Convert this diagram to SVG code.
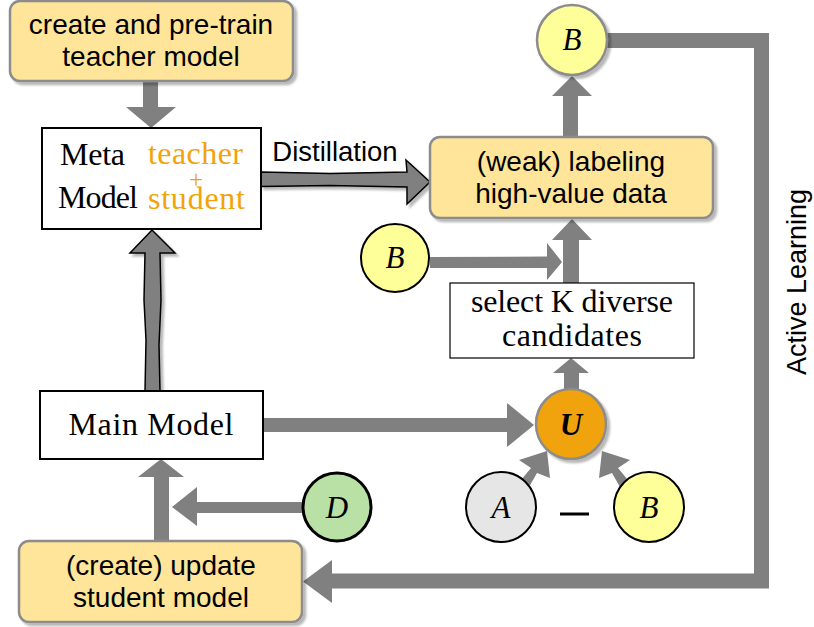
<svg xmlns="http://www.w3.org/2000/svg" width="814" height="627" viewBox="0 0 814 627">
<defs>
<filter id="sh" x="-20%" y="-20%" width="150%" height="150%">
<feDropShadow dx="3" dy="3" stdDeviation="1.2" flood-color="#000" flood-opacity="0.28"/>
</filter>
</defs>
<style>
.sans{font-family:"Liberation Sans",Arial,sans-serif;font-size:28px;fill:#000;text-anchor:middle}
.serif{font-family:"Liberation Serif","Times New Roman",serif;font-size:32px;fill:#000}
.or{fill:#F0A30A}
.let{font-family:"Liberation Serif","Times New Roman",serif;font-size:31px;font-style:italic;text-anchor:middle;fill:#000}
.ybox{fill:#FFE599;stroke:#8C8C8C;stroke-width:2.5}
.wbox{fill:#fff;stroke:#000}
.arr{fill:#808080;stroke:none}
.sk{fill:#808080;stroke:#000;stroke-width:1.5;stroke-linejoin:miter}
.line{fill:none;stroke:#808080;stroke-width:15}
</style>
<rect width="814" height="627" fill="#fff"/>

<g id="connectors">
<polygon class="arr" points="143,82 158,82 158,107 176,107 151,128 126,107 143,107"/>
<polygon class="sk" filter="url(#sh)" points="261,172 330,173.5 407,172 406,160 430,182 407,204 407,187 330,185.5 261,186.5"/>
<polygon class="arr" points="563,137 563,96 552,96 572,76 592,96 578,96 578,137"/>
<path class="line" d="M605,40.5 H761.5 V581 H330"/>
<polygon class="arr" points="332,560 332,603 303,581.5"/>
<polygon class="arr" points="430,257 547,256.5 547,243 562,262 547,280 547,268 430,268"/>
<polygon class="arr" points="563,283 563,240 552,240 572,219 592,240 579,240 579,283"/>
<polygon class="arr" points="564,390 564,373 553,373 571,358 589,373 579,373 579,390"/>
<polygon class="arr" points="263,418 507,418 507,403 534,425 507,447 507,432 263,432"/>
<polygon class="arr" points="521,480 531,468 519,460 547,451 550,478 537,473 529,487"/>
<polygon class="arr" points="628,480 618,468 630,460 602,451 599,478 612,473 620,487"/>
<polygon class="sk" filter="url(#sh)" points="145,391 146,340 144,300 145,253 130,253 152,230 175,253 160,253 161,300 159,345 160,391"/>
<polygon class="arr" points="154,541 154,477 138,477 161,459 184,477 169,477 169,541"/>
<polygon class="arr" points="302,502 197,502 197,487 172,507 197,526 197,513 302,513"/>
</g>

<g id="teacher">
<rect class="ybox" filter="url(#sh)" x="10" y="1" width="283" height="80" rx="10"/>
<text class="sans" x="151" y="34">create and pre-train</text>
<text class="sans" x="151" y="66">teacher model</text>
</g>

<g id="meta">
<rect class="wbox" stroke-width="2" x="42" y="128" width="219" height="101"/>
<text class="serif" x="60" y="165" textLength="65" lengthAdjust="spacing">Meta</text>
<text class="serif" x="58" y="208" textLength="80" lengthAdjust="spacing">Model</text>
<text class="serif or" x="148" y="164" textLength="95" lengthAdjust="spacing">teacher</text>
<text class="serif or" x="196" y="188" style="font-size:25px;text-anchor:middle">+</text>
<text class="serif or" x="148" y="209" textLength="97" lengthAdjust="spacing">student</text>
</g>

<text class="sans" x="335" y="161" style="font-size:27.5px">Distillation</text>

<g id="labeling">
<rect class="ybox" filter="url(#sh)" x="430" y="137" width="283" height="81" rx="10"/>
<text class="sans" x="571" y="171">(weak) labeling</text>
<text class="sans" x="571" y="203">high-value data</text>
</g>

<g id="Btop">
<circle cx="572" cy="40" r="35" fill="#FFFF99" stroke="#8C8C8C" stroke-width="2.5" filter="url(#sh)"/>
<text class="let" x="572" y="50">B</text>
</g>

<g id="Bleft">
<circle cx="395" cy="258" r="34" fill="#FFFF99" stroke="#000" stroke-width="2"/>
<text class="let" x="395" y="268">B</text>
</g>

<g id="select">
<rect class="wbox" stroke-width="1.2" x="450" y="283" width="244" height="75"/>
<text class="serif" x="572" y="312" style="text-anchor:middle" textLength="202" lengthAdjust="spacing">select K diverse</text>
<text class="serif" x="572" y="346" style="text-anchor:middle" textLength="140" lengthAdjust="spacing">candidates</text>
</g>

<g id="U">
<circle cx="571" cy="424" r="35" fill="#F0A30A" stroke="#8C8C8C" stroke-width="2.5" filter="url(#sh)"/>
<text class="let" x="571" y="435" style="font-weight:bold">U</text>
</g>

<g id="main">
<rect class="wbox" stroke-width="2" x="40" y="391" width="223" height="68"/>
<text class="serif" x="151" y="435" style="text-anchor:middle" textLength="165" lengthAdjust="spacing">Main Model</text>
</g>

<g id="A">
<circle cx="501" cy="507" r="35" fill="#E6E6E6" stroke="#000" stroke-width="2"/>
<text class="let" x="501" y="518">A</text>
</g>

<g id="minus">
<line x1="560" y1="514" x2="589" y2="514" stroke="#000" stroke-width="3"/>
</g>

<g id="Bbottom">
<circle cx="649" cy="507" r="35" fill="#FFFF99" stroke="#000" stroke-width="2"/>
<text class="let" x="649" y="518">B</text>
</g>

<g id="D">
<circle cx="337" cy="507" r="34" fill="#B9E0A5" stroke="#000" stroke-width="3"/>
<text class="let" x="337" y="518">D</text>
</g>

<g id="student">
<rect class="ybox" filter="url(#sh)" x="19" y="541" width="283" height="81" rx="10"/>
<text class="sans" x="161" y="575">(create) update</text>
<text class="sans" x="161" y="607">student model</text>
</g>

<text class="sans" transform="translate(806,282) rotate(-90)" x="0" y="0" style="font-size:27px">Active Learning</text>
</svg>
